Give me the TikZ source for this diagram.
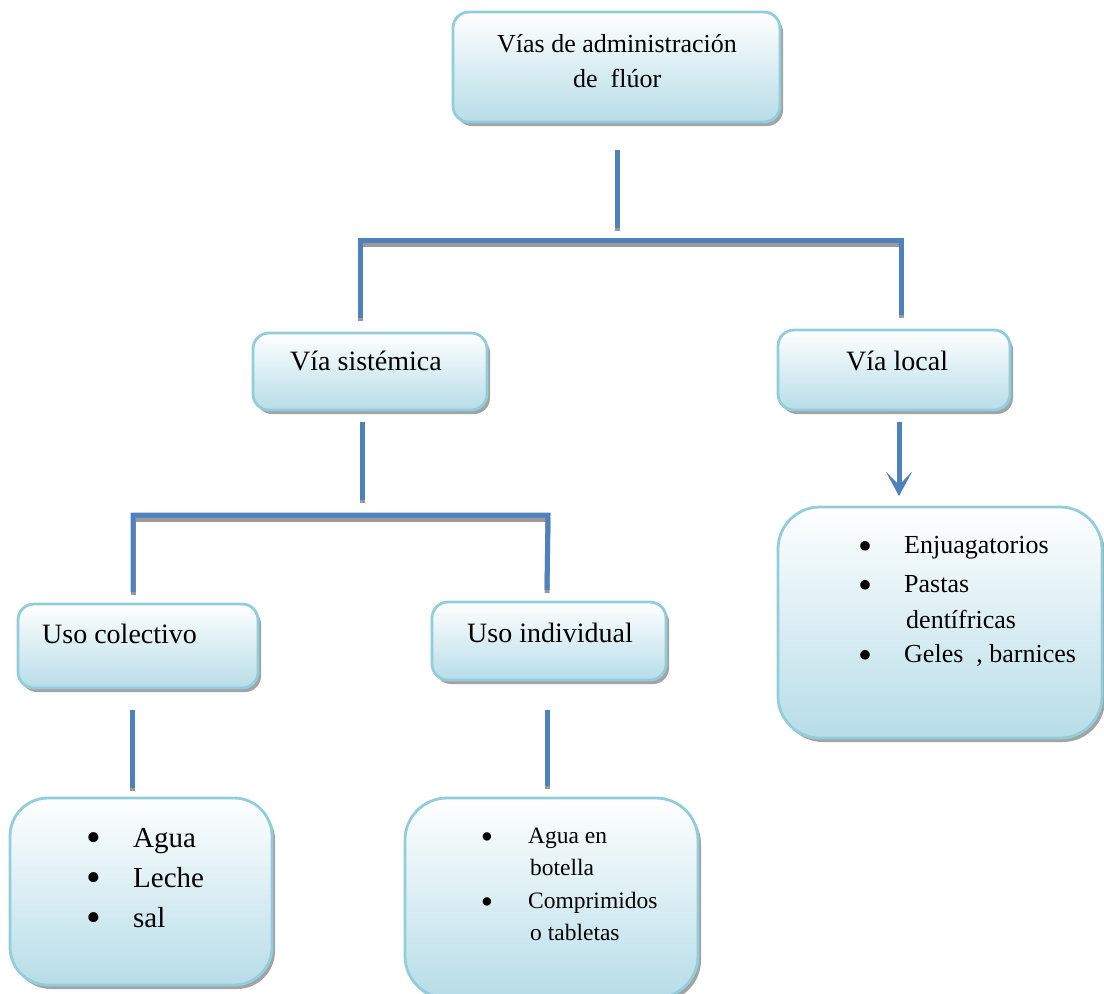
\documentclass[tikz,border=0pt]{standalone}
\usepackage{fontspec}
\setmainfont{Liberation Serif}
\usetikzlibrary{shadows,arrows.meta}
\definecolor{boxline}{HTML}{92CDDC}
\definecolor{boxfill}{HTML}{B7DDE8}
\definecolor{conn}{HTML}{4F81BD}
\definecolor{connshadow}{HTML}{9A9A9A}
\begin{document}
\begin{tikzpicture}[x=1pt,y=-1pt,
  box/.style={draw=boxline, line width=2.8pt, rounded corners=16pt,
    top color=white, bottom color=boxfill, inner sep=0pt,
    drop shadow={shadow xshift=3pt, shadow yshift=-4pt, fill=black!45, opacity=0.8}},
  bigbox/.style={box, rounded corners=42pt},
  txt/.style={inner sep=0pt, anchor=base west},
  bul/.style={inner sep=0pt, anchor=base, text height=0.42em, text depth=0pt},
  connline/.style={draw=conn, line width=5pt},
  connshade/.style={draw=connshadow, line width=5pt},
]
\useasboundingbox (0,0) rectangle (1104,994);

% boxes
\node[box, minimum width=327pt, minimum height=110pt] (top) at (616.5,67) {};
\node[box, minimum width=234pt, minimum height=77pt] (sis) at (370,371.5) {};
\node[box, minimum width=232pt, minimum height=80pt] (loc) at (894,370) {};
\node[bigbox, minimum width=324pt, minimum height=231pt] (locl) at (940,622.5) {};
\node[box, minimum width=240pt, minimum height=84pt] (col) at (138,646) {};
\node[box, minimum width=234pt, minimum height=78pt] (ind) at (549,641) {};
\node[bigbox, rounded corners=38pt, minimum width=262pt, minimum height=187pt] (coll) at (141,891.5) {};
\node[bigbox, minimum width=293pt, minimum height=200pt] (indl) at (551.5,898) {};

% texts
\node[txt, font=\fontsize{26}{30}\selectfont] (t1) at (497,52) {Vías de administración};
\node[txt, font=\fontsize{26}{30}\selectfont] (t2) at (573,87) {de~~flúor};
\node[txt, font=\fontsize{28}{32}\selectfont] (t3) at (290,370) {Vía sistémica};
\node[txt, font=\fontsize{28}{32}\selectfont] (t4) at (846,370) {Vía local};
\node[txt, font=\fontsize{28}{32}\selectfont] (t5) at (42,643) {Uso colectivo};
\node[txt, font=\fontsize{28}{32}\selectfont] (t6) at (467,642) {Uso individual};

% list: via local
\begin{scope}[font=\fontsize{26}{30}\selectfont]
\node[bul, font=\fontsize{40}{40}\selectfont] (b1) at (865,559) {•};
\node[txt] (l1) at (904,553) {Enjuagatorios};
\node[bul, font=\fontsize{40}{40}\selectfont] (b2) at (865,598) {•};
\node[txt] (l2) at (904,592) {Pastas};
\node[txt] (l3) at (906,628) {dentífricas};
\node[bul, font=\fontsize{40}{40}\selectfont] (b3) at (865,668) {•};
\node[txt] (l4) at (904,662) {Geles~~, barnices};
\end{scope}

% list: uso colectivo
\begin{scope}[font=\fontsize{29}{33}\selectfont]
\node[bul, font=\fontsize{42}{42}\selectfont] (b4) at (94,851) {•};
\node[txt] (l5) at (133,847) {Agua};
\node[bul, font=\fontsize{42}{42}\selectfont] (b5) at (94,891) {•};
\node[txt] (l6) at (133,887) {Leche};
\node[bul, font=\fontsize{42}{42}\selectfont] (b6) at (94,931) {•};
\node[txt] (l7) at (133,927) {sal};
\end{scope}

% list: uso individual
\begin{scope}[font=\fontsize{23.5}{27}\selectfont]
\node[bul, font=\fontsize{35}{35}\selectfont] (b7) at (487,848) {•};
\node[txt] (l8) at (528,843) {Agua en};
\node[txt] (l9) at (530,875) {botella};
\node[bul, font=\fontsize{35}{35}\selectfont] (b8) at (487,913) {•};
\node[txt] (l10) at (528,908) {Comprimidos};
\node[txt] (l11) at (530,940) {o tabletas};
\end{scope}

% connector coordinates
\coordinate (c1a) at (617,150); \coordinate (c1b) at (617,228);
\coordinate (h1l) at (360,240); \coordinate (h1r) at (901,240);
\coordinate (c2a) at (360,318); \coordinate (c3a) at (901,315);
\coordinate (c4a) at (362,422); \coordinate (c4b) at (362,500);
\coordinate (h2l) at (133,515); \coordinate (h2r) at (548,515);
\coordinate (c5a) at (133,592); \coordinate (c6a) at (547,590);
\coordinate (c7a) at (132,710); \coordinate (c7b) at (132,788);
\coordinate (c8a) at (547,710); \coordinate (c8b) at (547,786);
\coordinate (arA) at (899,422); \coordinate (arB) at (899,496);

% shadows of connectors
\draw[connshade] ([yshift=-3pt]c1a) -- ([yshift=-3pt]c1b);
\draw[connshade] ([yshift=-4pt]h1l) -- ([yshift=-4pt]h1r);
\draw[connshade] ([yshift=-3pt]c2a) -- ([yshift=-3pt]h1l);
\draw[connshade] ([yshift=-3pt]c3a) -- ([yshift=-3pt]h1r);
\draw[connshade] ([yshift=-3pt]c4a) -- ([yshift=-3pt]c4b);
\draw[connshade] ([yshift=-4pt]h2l) -- ([yshift=-4pt]h2r);
\draw[connshade] ([yshift=-3pt]c5a) -- ([yshift=-3pt]h2l);
\draw[connshade] ([yshift=-3pt]c6a) -- ([yshift=-3pt]h2r);
\draw[connshade] ([yshift=-3pt]c7a) -- ([yshift=-3pt]c7b);
\draw[connshade] ([yshift=-3pt]c8a) -- ([yshift=-3pt]c8b);

% connectors
\draw[connline] (c1a) -- (c1b);
\draw[connline] (c2a) -- (h1l) -- (h1r) -- (c3a);
\draw[connline] (c4a) -- (c4b);
\draw[connline] (c5a) -- (h2l) -- (h2r) -- (c6a);
\draw[connline] (c7a) -- (c7b);
\draw[connline] (c8a) -- (c8b);
\draw[connline, -{Stealth[length=24pt,width=26pt,inset=13pt]}] (arA) -- (arB);
\end{tikzpicture}
\end{document}
